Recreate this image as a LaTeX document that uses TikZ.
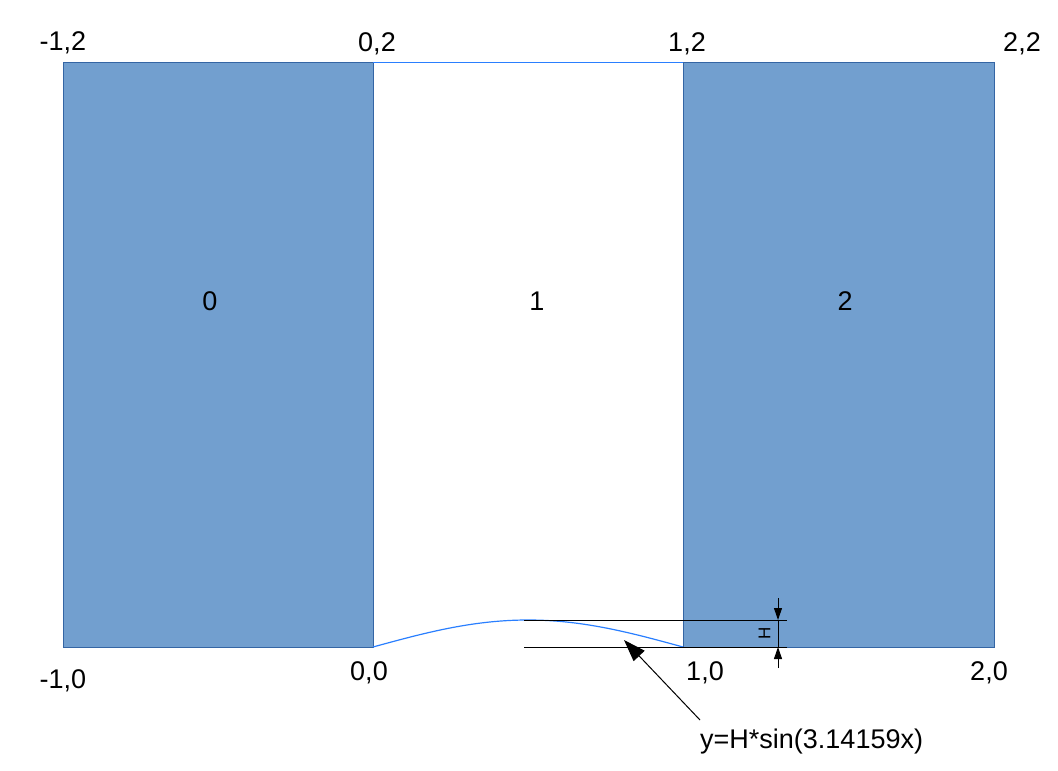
\documentclass[tikz,border=0pt]{standalone}
\usepackage{fontspec}
\setmainfont{Liberation Sans}
\usetikzlibrary{arrows.meta}
\definecolor{blockfill}{HTML}{729FCF}
\definecolor{blockline}{HTML}{3465A4}
\definecolor{curveblue}{HTML}{2A7FFF}
\tikzset{
  block/.style={fill=blockfill,draw=blockline,line width=0.8pt},
  lbl/.style={inner sep=0pt,font=\fontsize{27}{32}\selectfont,anchor=base},
  hlbl/.style={inner sep=0pt,font=\fontsize{17}{20}\selectfont},
  thin line/.style={draw=black,line width=1pt},
  dimarrow/.style={thin line,-{Triangle[length=12pt,width=8pt]}},
  callout/.style={thin line,-{Triangle[length=22pt,width=15pt]}},
}
\begin{document}
\begin{tikzpicture}[x=1pt,y=-1pt]
\useasboundingbox (0,0) rectangle (1058,771);
% blocks
\draw[block] (63,62) rectangle (373,647);
\draw[block] (683,62) rectangle (994,647);
\draw[curveblue,line width=1pt] (373,62) -- (683,62);
% curve
\draw[curveblue,line width=1.2pt] plot[domain=0:1,samples=60,smooth] ({373+310*\x},{647-27*sin(180*\x)});
% reference lines
\coordinate (l1a) at (524,620); \coordinate (l1b) at (787,620);
\coordinate (l2a) at (524,647); \coordinate (l2b) at (787,647);
\draw[thin line] (l1a) -- (l1b);
\draw[thin line] (l2a) -- (l2b);
% dimension
\coordinate (dtop) at (778,598); \coordinate (dhi) at (778,620);
\coordinate (dbot) at (778,668); \coordinate (dlo) at (778,647);
\draw[dimarrow] (dtop) -- (dhi);
\draw[dimarrow] (dbot) -- (dlo);
\draw[thin line] (dhi) -- (dlo);
\node[hlbl,rotate=90] (hlab) at (764.5,633) {H};
% callout
\coordinate (ctail) at (700,720); \coordinate (ctip) at (624,640);
\draw[callout] (ctail) -- (ctip);
\node[lbl,anchor=base west] (eq) at (700,748) {y=H*sin(3.14159x)};
% corner labels
\node[lbl] (c1) at (63,50) {-1,2};
\node[lbl] (c2) at (377,51) {0,2};
\node[lbl] (c3) at (687,51) {1,2};
\node[lbl] (c4) at (1022,51) {2,2};
\node[lbl] (c5) at (63,688) {-1,0};
\node[lbl] (c6) at (369,680) {0,0};
\node[lbl] (c7) at (705,680) {1,0};
\node[lbl] (c8) at (989,680) {2,0};
% region labels
\node[lbl] (r0) at (210,310) {0};
\node[lbl] (r1) at (537,310) {1};
\node[lbl] (r2) at (845,310) {2};
\end{tikzpicture}
\end{document}
